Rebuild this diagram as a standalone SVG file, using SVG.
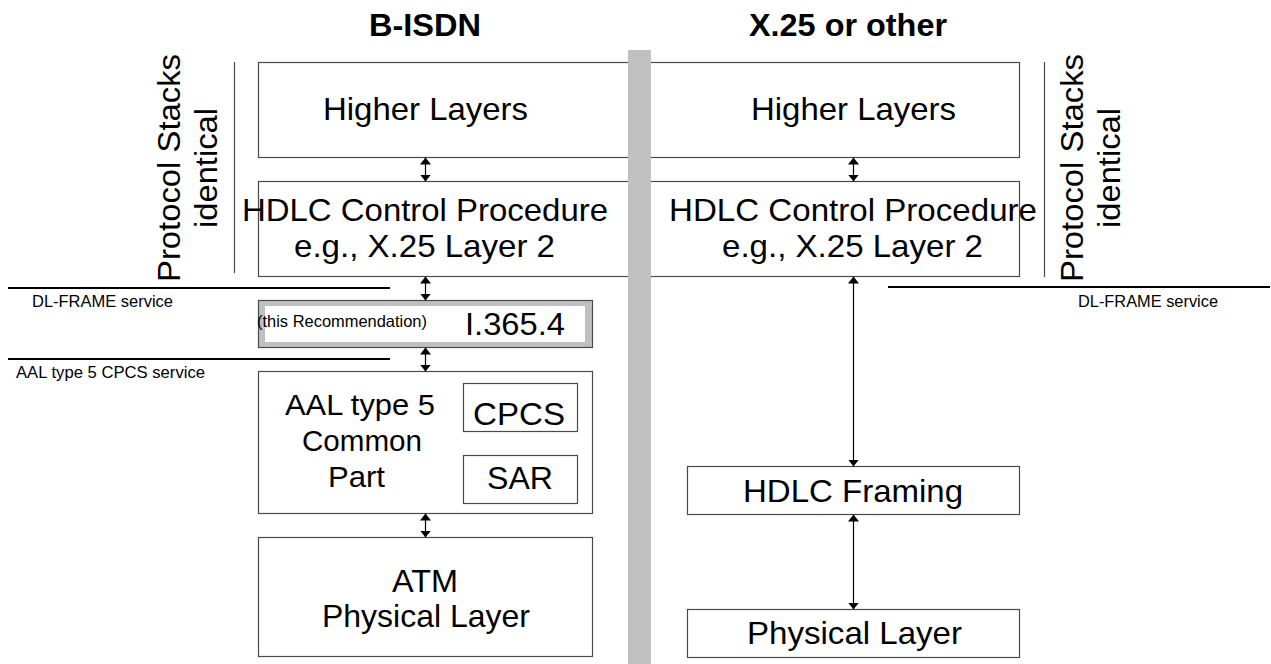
<svg xmlns="http://www.w3.org/2000/svg" width="1271" height="664" viewBox="0 0 1271 664">
<defs>
<style>
.box{fill:#fff;stroke:#4a4a4a;stroke-width:1.2}
.t{font-family:"Liberation Sans",Arial,sans-serif;fill:#000}
.big{font-size:32px}
.small{font-size:16.5px}
.title{font-size:31px;font-weight:bold}
.svc{stroke:#000;stroke-width:2.2}
.thin{stroke:#4a4a4a;stroke-width:1.2}
.conn{stroke:#000;stroke-width:1.2;fill:none;marker-start:url(#ah);marker-end:url(#ah)}
</style>
<marker id="ah" viewBox="0 0 7 11" refX="7" refY="5.5" markerWidth="7" markerHeight="11" markerUnits="userSpaceOnUse" orient="auto-start-reverse">
<path d="M0,0 L7,5.5 L0,11 z" fill="#000"/>
</marker>
</defs>
<rect width="1271" height="664" fill="#fff"/>

<g id="titles">
<text class="t title" x="369" y="36" textLength="112" lengthAdjust="spacingAndGlyphs">B-ISDN</text>
<text class="t title" x="749" y="36" textLength="198" lengthAdjust="spacingAndGlyphs">X.25 or other</text>
</g>

<g id="left-higher">
<rect class="box" x="258.5" y="62.5" width="382" height="95"/>
<text class="t big" x="323" y="120" textLength="205" lengthAdjust="spacingAndGlyphs">Higher Layers</text>
</g>
<g id="left-hdlc">
<rect class="box" x="258.5" y="181.5" width="382" height="95"/>
<text class="t big" x="242" y="221" textLength="366" lengthAdjust="spacingAndGlyphs">HDLC Control Procedure</text>
<text class="t big" x="294" y="257" textLength="261" lengthAdjust="spacingAndGlyphs">e.g., X.25 Layer 2</text>
</g>
<g id="i3654">
<rect x="258.5" y="300.5" width="334" height="47" fill="#c0c0c0" stroke="#4a4a4a" stroke-width="1.2"/>
<rect x="265" y="306" width="320" height="36" fill="#fff"/>
<text class="t small" x="257" y="327" textLength="170" lengthAdjust="spacingAndGlyphs">(this Recommendation)</text>
<text class="t big" x="465" y="335" textLength="100" lengthAdjust="spacingAndGlyphs">I.365.4</text>
</g>
<g id="aal5">
<rect class="box" x="258.5" y="371.5" width="334" height="142"/>
<text class="t" font-size="30" x="285" y="415" textLength="150" lengthAdjust="spacingAndGlyphs">AAL type 5</text>
<text class="t" font-size="30" x="302" y="451" textLength="120" lengthAdjust="spacingAndGlyphs">Common</text>
<text class="t" font-size="30" x="328" y="487" textLength="57" lengthAdjust="spacingAndGlyphs">Part</text>
</g>
<g id="cpcs">
<rect class="box" x="463.5" y="383.5" width="114" height="48"/>
<text class="t big" x="473" y="425" textLength="92" lengthAdjust="spacingAndGlyphs">CPCS</text>
</g>
<g id="sar">
<rect class="box" x="463.5" y="455.5" width="114" height="48"/>
<text class="t big" x="487" y="489" textLength="66" lengthAdjust="spacingAndGlyphs">SAR</text>
</g>
<g id="atm">
<rect class="box" x="258.5" y="537.5" width="334" height="119"/>
<text class="t big" x="392" y="592" textLength="66" lengthAdjust="spacingAndGlyphs">ATM</text>
<text class="t big" x="322" y="627" textLength="208" lengthAdjust="spacingAndGlyphs">Physical Layer</text>
</g>

<g id="right-higher">
<rect class="box" x="640.5" y="62.5" width="379" height="95"/>
<text class="t big" x="751" y="120" textLength="205" lengthAdjust="spacingAndGlyphs">Higher Layers</text>
</g>
<g id="right-hdlc">
<rect class="box" x="640.5" y="181.5" width="379" height="95"/>
<text class="t big" x="669" y="221" textLength="368" lengthAdjust="spacingAndGlyphs">HDLC Control Procedure</text>
<text class="t big" x="722" y="257" textLength="261" lengthAdjust="spacingAndGlyphs">e.g., X.25 Layer 2</text>
</g>
<g id="hdlc-framing">
<rect class="box" x="687.5" y="466.5" width="332" height="48"/>
<text class="t big" x="743" y="502" textLength="220" lengthAdjust="spacingAndGlyphs">HDLC Framing</text>
</g>
<g id="right-physical">
<rect class="box" x="687.5" y="609.5" width="332" height="48"/>
<text class="t big" x="747" y="644" textLength="215" lengthAdjust="spacingAndGlyphs">Physical Layer</text>
</g>

<g id="divider">
<rect x="628" y="50" width="23" height="614" fill="#c0c0c0"/>
</g>

<g id="left-bracket">
<line class="thin" x1="234.5" y1="62" x2="234.5" y2="273"/>
<text class="t" font-size="32" text-anchor="middle" transform="translate(180,168) rotate(-90)" textLength="228" lengthAdjust="spacingAndGlyphs">Protocol Stacks</text>
<text class="t" font-size="32" text-anchor="middle" transform="translate(217,168) rotate(-90)" textLength="120" lengthAdjust="spacingAndGlyphs">identical</text>
</g>
<g id="right-bracket">
<line class="thin" x1="1044.5" y1="62" x2="1044.5" y2="277"/>
<text class="t" font-size="32" text-anchor="middle" transform="translate(1083,168) rotate(-90)" textLength="228" lengthAdjust="spacingAndGlyphs">Protocol Stacks</text>
<text class="t" font-size="32" text-anchor="middle" transform="translate(1120,168) rotate(-90)" textLength="120" lengthAdjust="spacingAndGlyphs">identical</text>
</g>

<g id="service-boundaries">
<line class="svc" x1="8" y1="288" x2="390" y2="288"/>
<text class="t small" x="32" y="307" textLength="141" lengthAdjust="spacingAndGlyphs">DL-FRAME service</text>
<line class="svc" x1="8" y1="359" x2="390" y2="359"/>
<text class="t small" x="16" y="378" textLength="189" lengthAdjust="spacingAndGlyphs">AAL type 5 CPCS service</text>
<line class="svc" x1="888" y1="287" x2="1270" y2="287"/>
<text class="t small" x="1078" y="307" textLength="140" lengthAdjust="spacingAndGlyphs">DL-FRAME service</text>
</g>

<g id="connectors">
<line class="conn" x1="425.5" y1="157.5" x2="425.5" y2="181.5"/>
<line class="conn" x1="425.5" y1="276.5" x2="425.5" y2="300.5"/>
<line class="conn" x1="425.5" y1="347.5" x2="425.5" y2="371.5"/>
<line class="conn" x1="425.5" y1="513.5" x2="425.5" y2="537.5"/>
<line class="conn" x1="853.5" y1="157.5" x2="853.5" y2="181.5"/>
<line class="conn" x1="853.5" y1="276.5" x2="853.5" y2="466.5"/>
<line class="conn" x1="853.5" y1="514.5" x2="853.5" y2="609.5"/>
</g>
</svg>
